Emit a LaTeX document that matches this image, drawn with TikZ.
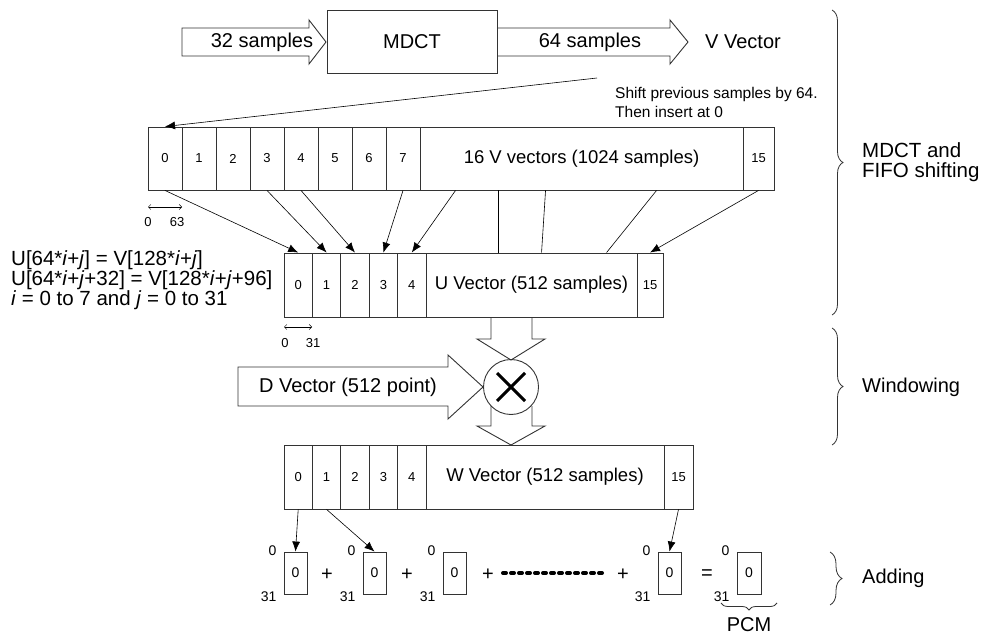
\documentclass[tikz,border=0pt]{standalone}
\usepackage{fontspec}
\setmainfont{Liberation Sans}
\usetikzlibrary{arrows.meta,decorations.pathreplacing,calc}
\tikzset{
  frame/.style={draw=black!80, line width=0.9pt, inner sep=0pt},
  cellv/.style={frame, minimum height=63pt, font=\fontsize{13}{13}\selectfont},
  cellu/.style={frame, minimum height=64pt, font=\fontsize{13}{13}\selectfont},
  bigtxt/.style={font=\fontsize{18.5}{20}\selectfont},
  lbl/.style={font=\fontsize{20}{20}\selectfont, inner sep=0pt},
  eqtxt/.style={font=\fontsize{20.5}{20}\selectfont, inner sep=0pt, anchor=west},
  small/.style={font=\fontsize{13}{13}\selectfont, inner sep=0pt},
  smalltwo/.style={font=\fontsize{14}{14}\selectfont, inner sep=0pt},
  conn/.style={line width=0.6pt},
  arr/.style={conn, -{Latex[length=10pt,width=8pt]}},
  hollow/.style={draw=black!80, line width=0.9pt, line join=miter},
  dbl/.style={line width=0.5pt, {Straight Barb[length=2.5pt,width=5pt]}-{Straight Barb[length=2.5pt,width=5pt]}},
  bbox/.style={frame, minimum width=23pt, minimum height=42pt, font=\fontsize{14}{14}\selectfont},
  brc/.style={draw=black!80, line width=0.8pt, decorate, decoration={brace, amplitude=#1}},
}
\begin{document}
\begin{tikzpicture}[x=1pt,y=-1pt]
\useasboundingbox (0,0) rectangle (982,636);
% ---------- top row ----------
\draw[hollow] (182,28) -- (309,28) -- (309,20) -- (326,42) -- (309,64) -- (309,56) -- (182,56) -- cycle;
\node[lbl] (in) at (262,42) {32 samples};
\node[frame, minimum width=170pt, minimum height=63pt, font=\fontsize{20}{20}\selectfont] (mdct) at (412,41.5) {MDCT};
\draw[hollow] (497,28) -- (670,28) -- (670,20) -- (688,42) -- (670,64) -- (670,56) -- (497,56);
\node[lbl] (out) at (590,42) {64 samples};
\node[lbl, anchor=west] (vvec) at (705,42) {V Vector};
\node[font=\fontsize{15.5}{15}\selectfont, inner sep=0pt, anchor=base west] (shift1) at (615,99) {Shift previous samples by 64.};
\node[font=\fontsize{15.5}{15}\selectfont, inner sep=0pt, anchor=base west] (shift2) at (615,118) {Then insert at 0};
% ---------- V row ----------
\foreach \i in {0,...,7} { \node[cellv, minimum width=34pt] (v\i) at ({165+34*\i},158.5) {\i}; }
\node[cellv, minimum width=323pt, bigtxt] (vbig) at (581.5,158.5) {16 V vectors (1024 samples)};
\node[cellv, minimum width=31pt] (v15) at (758.5,158.5) {15};
\coordinate (lstart) at (597,78);
\draw[arr] (lstart) -- (v0.north);
\coordinate (va) at (148,207); \coordinate (vb) at (182,207);
\draw[dbl] (va) -- (vb);
\node[small] (va0) at (148,222) {0};
\node[small] (va63) at (177,222) {63};
% ---------- U row ----------
\foreach \i in {0,...,4} { \node[cellu, minimum width=28.4pt] (u\i) at ({298.2+28.4*\i},285) {\i}; }
\node[cellu, minimum width=211pt, bigtxt] (ubig) at (531.5,285) {U Vector (512 samples)};
\node[cellu, minimum width=26pt] (u15) at (650,285) {15};
\draw[arr] (v0.south) -- (u0.north);
\draw[arr] (v3.south) -- (u1.north);
\draw[arr] (v4.south) -- (u2.north);
\draw[arr] (v7.south) -- (u3.north);
\draw[arr] ($(vbig.south west)+(36,0)$) -- (u4.north);
\draw[conn] ($(vbig.south west)+(79,0)$) -- ($(ubig.north west)+(73,0)$);
\draw[conn] ($(vbig.south west)+(126,0)$) -- ($(ubig.north west)+(116,0)$);
\draw[conn] ($(vbig.south west)+(237,0)$) -- ($(ubig.north west)+(181,0)$);
\draw[arr] (v15.south) -- (u15.north);
\coordinate (ua) at (284,327); \coordinate (ub) at (312,327);
\draw[dbl] (ua) -- (ub);
\node[small] (ua0) at (285,343) {0};
\node[small] (ua31) at (313,343) {31};
% equations
\node[eqtxt] (eq1) at (11,260) {U[64*\textit{i}+\textit{j}] = V[128*\textit{i}+\textit{j}]};
\node[eqtxt] (eq2) at (11,280) {U[64*\textit{i}+\textit{j}+32] = V[128*\textit{i}+\textit{j}+96]};
\node[eqtxt] (eq3) at (11,300) {\textit{i} = 0 to 7 and \textit{j} = 0 to 31};
% ---------- windowing ----------
\draw[hollow] (491,317) -- (491,339) -- (477,339) -- (511,360) -- (545,339) -- (532,339) -- (532,317);
\node[draw=black!80, line width=0.9pt, circle, minimum size=55pt, inner sep=0pt] (mult) at (511,387) {};
\draw[line width=3pt] ($(mult.center)+(-14,-14)$) -- ($(mult.center)+(14,14)$);
\draw[line width=3pt] ($(mult.center)+(-14,14)$) -- ($(mult.center)+(14,-14)$);
\draw[hollow] (491,406) -- (491,426) -- (477,426) -- (511,445) -- (545,426) -- (532,426) -- (532,406);
\draw[hollow] (238,367) -- (448,367) -- (448,355) -- (483,387) -- (448,419) -- (448,406) -- (238,406) -- cycle;
\node[lbl] (dvec) at (348,387) {D Vector (512 point)};
% ---------- W row ----------
\foreach \i in {0,...,4} { \node[cellu, minimum width=28.4pt] (w\i) at ({298.2+28.4*\i},477) {\i}; }
\node[cellu, minimum width=238pt, bigtxt] (wbig) at (545,477) {W Vector (512 samples)};
\node[cellu, minimum width=29pt] (w15) at (678.5,477) {15};
% ---------- adding ----------
\node[bbox] (b1) at (295.5,573) {0};
\node[bbox] (b2) at (374.5,573) {0};
\node[bbox] (b3) at (454.5,573) {0};
\node[bbox] (b4) at (669.5,573) {0};
\node[bbox, minimum width=24pt] (b5) at (749,573) {0};
\foreach \b in {b1,b2,b3,b4,b5} {
  \node[smalltwo] (\b-t) at ($(\b.north west)+(-11,-1)$) {0};
  \node[smalltwo] (\b-s) at ($(\b.south west)+(-15,2)$) {31};
}
\node[lbl] (p1) at (327,575) {+};
\node[lbl] (p2) at (407,575) {+};
\node[lbl] (p3) at (488,575) {+};
\node[lbl] (p4) at (623,575) {+};
\node[lbl] (eqs) at (707,575) {=};
\coordinate (dotsA) at (503,573); \coordinate (dotsB) at (604,573);
\draw[line width=4pt, line cap=round, dash pattern=on 3pt off 5pt] (dotsA) -- (dotsB);
\draw[arr] (w0.south) -- (b1.north);
\draw[arr] (w1.south) -- (b2.north);
\draw[arr] (w15.south) -- (b4.north);
\draw[brc=7pt, decoration={mirror}] (721,603) -- (777,603);
\node[lbl] (pcm) at (749,625) {PCM};
% ---------- right braces ----------
\draw[brc=11pt] (832,10) -- (832,315);
\draw[brc=11pt] (832,328) -- (832,445);
\draw[brc=12pt] (830,552) -- (830,605);
\node[lbl, anchor=west, align=left, font=\fontsize{20.5}{20}\selectfont] (mdctlbl) at (862,162) {MDCT and\\FIFO shifting};
\node[lbl, anchor=west] (win) at (862,387) {Windowing};
\node[lbl, anchor=west] (add) at (862,578) {Adding};
\end{tikzpicture}
\end{document}
